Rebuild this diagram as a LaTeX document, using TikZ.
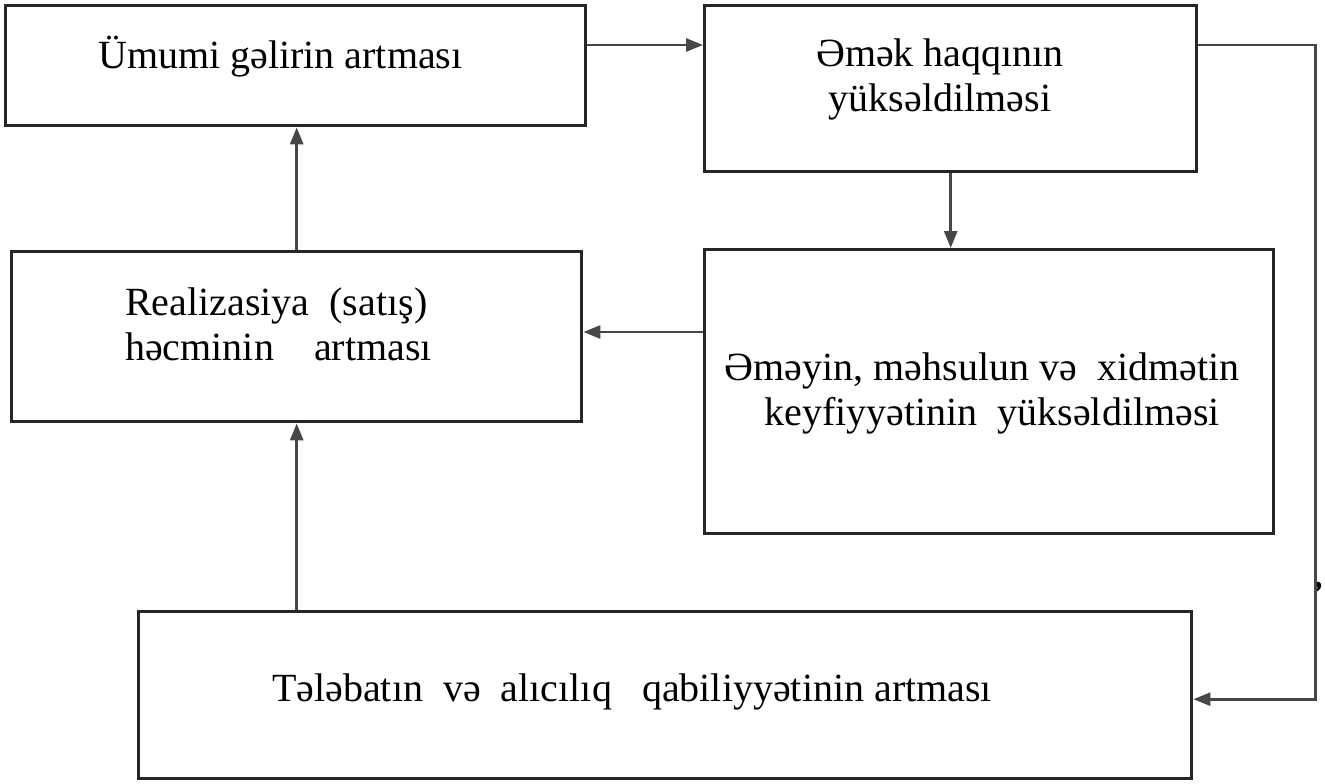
\documentclass[tikz,border=0pt]{standalone}
\usepackage{fontspec}
\setmainfont{Liberation Serif}
\usetikzlibrary{arrows.meta,calc}
\begin{document}
\begin{tikzpicture}[x=1pt,y=-1pt,
  box/.style={draw=black!85, line width=3.4pt, inner sep=0pt, anchor=north west},
  lbl/.style={inner sep=0pt, font=\fontsize{40}{45}\selectfont, text=black},
  arr/.style={draw=black!72, line width=2.8pt, -{Triangle[length=17pt,width=13pt]}}]
\useasboundingbox (0,0) rectangle (1325,784);
\node[box, minimum width=580pt, minimum height=120pt] (b1) at (4,4) {};
\node[box, minimum width=492pt, minimum height=166pt] (b2) at (703,4) {};
\node[box, minimum width=570pt, minimum height=170pt] (b3) at (10,250) {};
\node[box, minimum width=569pt, minimum height=284pt] (b4) at (703,248) {};
\node[box, minimum width=1053pt, minimum height=167pt] (b5) at (137,610) {};
\node[lbl, anchor=west] (t1) at (98,57) {Ümumi gəlirin artması};
\node[lbl, align=center] (t2) at (940,79) {Əmək haqqının\\yüksəldilməsi};
\node[lbl, align=left, anchor=west] (t3) at (125,324) {Realizasiya\ \ (satış)\\həcminin\ \ \ \ artması};
\node[lbl, align=center] (t4) at (982,393) {Əməyin, məhsulun və\ \ xidmətin\\\ \ keyfiyyətinin\ \ yüksəldilməsi};
\node[lbl] (t5) at (632,692) {Tələbatın\ \ və\ \ alıcılıq\ \ \ qabiliyyətinin artması};
\node[inner sep=0pt, font=\fontsize{36}{36}\selectfont\bfseries] (cm) at (1318,588) {,};
\draw[arr] ($(b1.north east)+(0,41)$) -- ($(b2.north west)+(0,41)$);
\draw[arr] (b2.south) -- (b2.south |- b4.north);
\draw[arr] ($(b4.north west)+(0,84)$) -- ($(b3.north east)+(0,82)$);
\draw[arr] (b3.north) -- (b3.north |- b1.south);
\draw[arr] (b5.north -| b3.north) -- (b3.south);
\draw[arr] ($(b2.north east)+(0,41)$) -- ($(b2.north east)+(117,41)$) |- ($(b5.east)+(0,4)$);
\end{tikzpicture}
\end{document}
